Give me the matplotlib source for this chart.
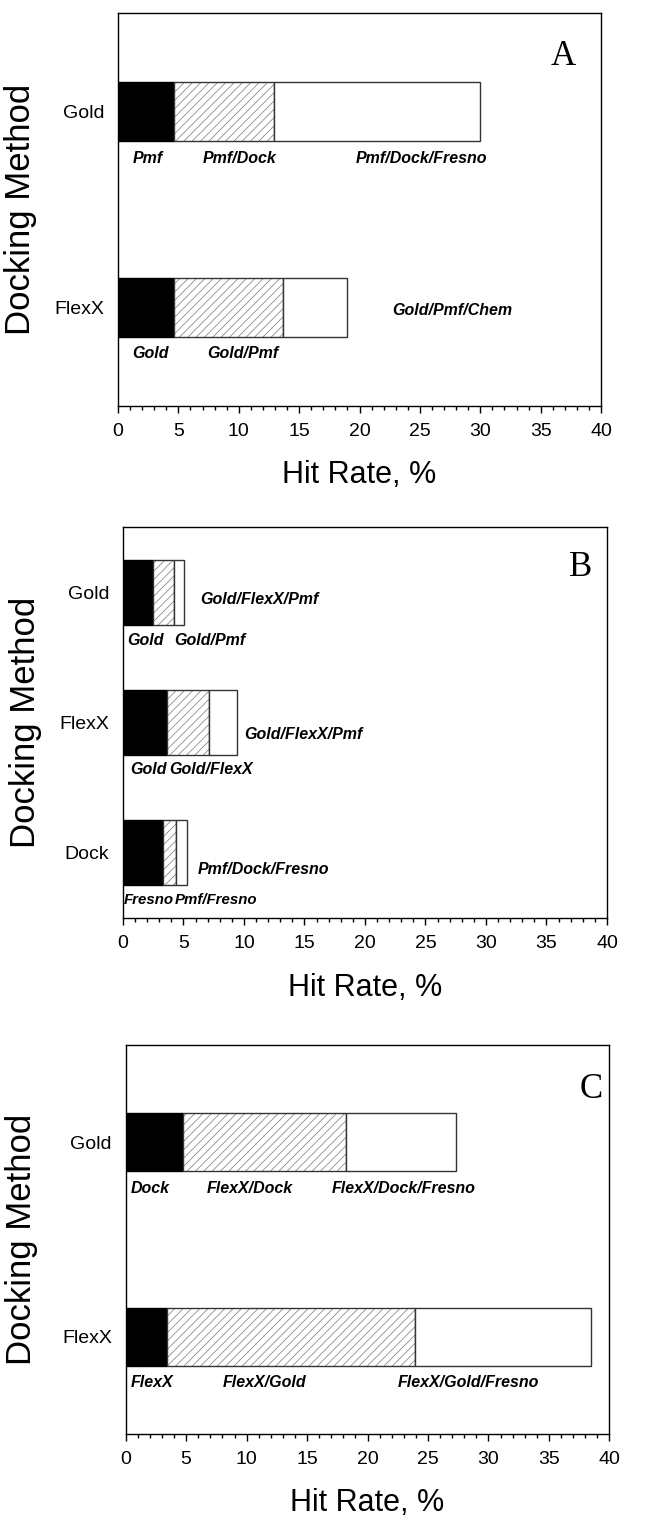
#!/usr/bin/env python

import matplotlib
matplotlib.use('Agg')
from matplotlib import pyplot as plt
from matplotlib.ticker import MultipleLocator

# panel A
a_methods = ['Gold', 'FlexX']
a_single = [4.6, 4.6]
a_double = [12.9, 13.7]
a_triple = [30.0, 19.0]
a_names = [['Pmf', 'Pmf/Dock', 'Pmf/Dock/Fresno'],
           ['Gold', 'Gold/Pmf', 'Gold/Pmf/Chem']]

# panel B
b_methods = ['Gold', 'FlexX', 'Dock']
b_single = [2.45, 3.65, 3.3]
b_double = [4.2, 7.1, 4.4]
b_triple = [5.05, 9.45, 5.3]
b_names = [['Gold', 'Gold/Pmf', 'Gold/FlexX/Pmf'],
           ['Gold', 'Gold/FlexX', 'Gold/FlexX/Pmf'],
           ['Fresno', 'Pmf/Fresno', 'Pmf/Dock/Fresno']]

# panel C
c_methods = ['Gold', 'FlexX']
c_single = [4.7, 3.4]
c_double = [18.2, 23.9]
c_triple = [27.3, 38.5]
c_names = [['Dock', 'FlexX/Dock', 'FlexX/Dock/Fresno'],
           ['FlexX', 'FlexX/Gold', 'FlexX/Gold/Fresno']]

plt.rcParams['font.family'] = ['Liberation Sans', 'DejaVu Sans']
plt.rcParams['hatch.linewidth'] = 0.5


def MakePanel(fig, rect, letter, methods, single, double, triple, names,
              name_pos, name_size, letter_pos, bar_h, label_x, xlabel_y):
    axe = fig.add_axes(rect)
    n = len(methods)
    y = [n - i for i in range(n)]
    w2 = [d - s for s, d in zip(single, double)]
    w3 = [t - d for d, t in zip(double, triple)]
    axe.barh(y, single, height=bar_h, color='black', edgecolor='black', linewidth=1)
    axe.barh(y, w2, left=single, height=bar_h, color='white', edgecolor='#777777',
             hatch='////', linewidth=0)
    axe.barh(y, w2, left=single, height=bar_h, fill=False, edgecolor='#333333', linewidth=1)
    axe.barh(y, w3, left=double, height=bar_h, color='white', edgecolor='#333333', linewidth=1)
    for i in range(n):
        for j in range(3):
            px, py = name_pos[i][j]
            axe.text(px, y[i] + py, names[i][j], fontsize=name_size[i][j], style='italic',
                     fontweight='bold', ha='left', va='center')
    axe.text(letter_pos[0], letter_pos[1], letter, fontsize=25, family='Liberation Serif',
             ha='center', va='center')
    axe.set_xlim(0, 40)
    axe.set_ylim(0.5, n + 0.5)
    axe.set_yticks(y)
    axe.set_yticklabels(methods, fontsize=14)
    axe.xaxis.set_major_locator(MultipleLocator(5))
    axe.xaxis.set_minor_locator(MultipleLocator(1))
    axe.tick_params(axis='x', which='major', direction='out', length=5, width=1,
                    labelsize=14, pad=7)
    axe.tick_params(axis='x', which='minor', direction='out', length=3, width=1)
    axe.tick_params(axis='y', length=0, pad=10)
    axe.set_xlabel('Hit Rate, %', fontsize=22)
    axe.set_ylabel('Docking Method', fontsize=25)
    axe.xaxis.set_label_coords(0.5, xlabel_y)
    axe.yaxis.set_label_coords(label_x, 0.5)
    for sp in axe.spines.values():
        sp.set_linewidth(1)
    return axe


def main():
    fig = plt.figure(figsize=(6.51, 15.16), dpi=100)
    big = [[11.5] * 3] * 3
    MakePanel(fig, [0.1813, 0.7322, 0.742, 0.2592], 'A', a_methods, a_single,
              a_double, a_triple, a_names,
              [[(1.25, -0.24), (7.0, -0.24), (19.7, -0.24)],
               [(1.16, -0.235), (7.4, -0.235), (22.7, -0.015)]], big,
              (36.9, 2.28), 0.3, -0.168, -0.137)
    MakePanel(fig, [0.1889, 0.3945, 0.7435, 0.2579], 'B', b_methods, b_single,
              b_double, b_triple, b_names,
              [[(0.36, -0.375), (4.2, -0.375), (6.36, -0.06)],
               [(0.63, -0.36), (3.8, -0.36), (10.0, -0.095)],
               [(0.05, -0.36), (4.3, -0.36), (6.14, -0.13)]],
              [[11.5] * 3, [11.5] * 3, [10.8, 10.8, 11.5]],
              (37.8, 3.19), 0.5, -0.167, -0.141)
    MakePanel(fig, [0.1931, 0.0541, 0.7429, 0.2566], 'C', c_methods, c_single,
              c_double, c_triple, c_names,
              [[(0.44, -0.24), (6.7, -0.24), (17.0, -0.24)],
               [(0.44, -0.235), (8.0, -0.235), (22.5, -0.235)]], big,
              (38.5, 2.27), 0.3, -0.181, -0.139)
    fig.savefig('out.png', dpi=100)


if __name__ == '__main__':
    main()
